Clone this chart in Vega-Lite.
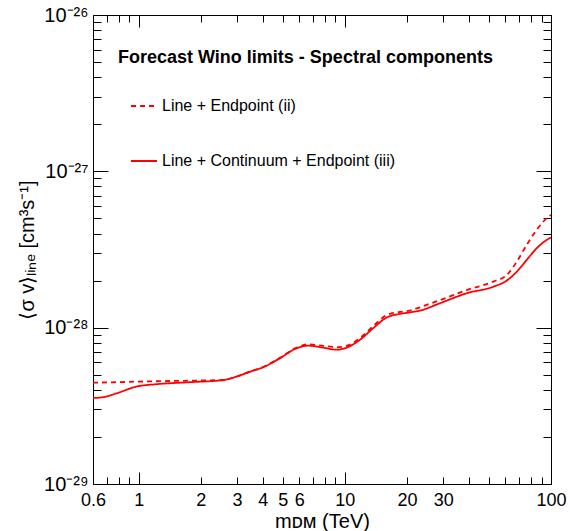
{
  "$schema": "https://vega.github.io/schema/vega-lite/v6.json",
  "autosize": "none",
  "padding": {"left": 93, "top": 15, "right": 19, "bottom": 47},
  "width": 458,
  "height": 469,
  "background": "white",
  "title": {
    "text": "Forecast Wino limits - Spectral components",
    "anchor": "start",
    "frame": "group",
    "orient": "top",
    "offset": 0,
    "baseline": "alphabetic",
    "dx": 25,
    "dy": 76,
    "font": "Liberation Sans",
    "fontSize": 18,
    "fontWeight": "bold",
    "color": "black"
  },
  "data": {
    "values": [
      {"m": 0.6, "sv": 4.45e-29, "series": "Line + Endpoint (ii)"},
      {"m": 0.8, "sv": 4.48e-29, "series": "Line + Endpoint (ii)"},
      {"m": 1.0, "sv": 4.52e-29, "series": "Line + Endpoint (ii)"},
      {"m": 1.3, "sv": 4.55e-29, "series": "Line + Endpoint (ii)"},
      {"m": 1.77, "sv": 4.58e-29, "series": "Line + Endpoint (ii)"},
      {"m": 2.57, "sv": 4.63e-29, "series": "Line + Endpoint (ii)"},
      {"m": 2.98, "sv": 4.87e-29, "series": "Line + Endpoint (ii)"},
      {"m": 3.46, "sv": 5.24e-29, "series": "Line + Endpoint (ii)"},
      {"m": 4.01, "sv": 5.6e-29, "series": "Line + Endpoint (ii)"},
      {"m": 4.84, "sv": 6.42e-29, "series": "Line + Endpoint (ii)"},
      {"m": 5.83, "sv": 7.45e-29, "series": "Line + Endpoint (ii)"},
      {"m": 6.64, "sv": 7.82e-29, "series": "Line + Endpoint (ii)"},
      {"m": 7.85, "sv": 7.65e-29, "series": "Line + Endpoint (ii)"},
      {"m": 9.11, "sv": 7.5e-29, "series": "Line + Endpoint (ii)"},
      {"m": 10.2, "sv": 7.65e-29, "series": "Line + Endpoint (ii)"},
      {"m": 11.8, "sv": 8.55e-29, "series": "Line + Endpoint (ii)"},
      {"m": 13.7, "sv": 1.02e-28, "series": "Line + Endpoint (ii)"},
      {"m": 15.9, "sv": 1.2e-28, "series": "Line + Endpoint (ii)"},
      {"m": 18.5, "sv": 1.26e-28, "series": "Line + Endpoint (ii)"},
      {"m": 20.7, "sv": 1.285e-28, "series": "Line + Endpoint (ii)"},
      {"m": 23.1, "sv": 1.35e-28, "series": "Line + Endpoint (ii)"},
      {"m": 28.9, "sv": 1.5e-28, "series": "Line + Endpoint (ii)"},
      {"m": 39.0, "sv": 1.74e-28, "series": "Line + Endpoint (ii)"},
      {"m": 52.5, "sv": 1.97e-28, "series": "Line + Endpoint (ii)"},
      {"m": 61.0, "sv": 2.17e-28, "series": "Line + Endpoint (ii)"},
      {"m": 68.2, "sv": 2.64e-28, "series": "Line + Endpoint (ii)"},
      {"m": 76.2, "sv": 3.38e-28, "series": "Line + Endpoint (ii)"},
      {"m": 85.2, "sv": 4.22e-28, "series": "Line + Endpoint (ii)"},
      {"m": 95.3, "sv": 5.01e-28, "series": "Line + Endpoint (ii)"},
      {"m": 100, "sv": 5.26e-28, "series": "Line + Endpoint (ii)"},
      {"m": 0.6, "sv": 3.55e-29, "series": "Line + Continuum + Endpoint (iii)"},
      {"m": 0.67, "sv": 3.59e-29, "series": "Line + Continuum + Endpoint (iii)"},
      {"m": 0.78, "sv": 3.8e-29, "series": "Line + Continuum + Endpoint (iii)"},
      {"m": 0.975, "sv": 4.2e-29, "series": "Line + Continuum + Endpoint (iii)"},
      {"m": 1.22, "sv": 4.35e-29, "series": "Line + Continuum + Endpoint (iii)"},
      {"m": 1.77, "sv": 4.48e-29, "series": "Line + Continuum + Endpoint (iii)"},
      {"m": 2.57, "sv": 4.62e-29, "series": "Line + Continuum + Endpoint (iii)"},
      {"m": 2.98, "sv": 4.86e-29, "series": "Line + Continuum + Endpoint (iii)"},
      {"m": 3.46, "sv": 5.22e-29, "series": "Line + Continuum + Endpoint (iii)"},
      {"m": 4.01, "sv": 5.58e-29, "series": "Line + Continuum + Endpoint (iii)"},
      {"m": 4.84, "sv": 6.37e-29, "series": "Line + Continuum + Endpoint (iii)"},
      {"m": 5.83, "sv": 7.38e-29, "series": "Line + Continuum + Endpoint (iii)"},
      {"m": 6.64, "sv": 7.67e-29, "series": "Line + Continuum + Endpoint (iii)"},
      {"m": 7.85, "sv": 7.45e-29, "series": "Line + Continuum + Endpoint (iii)"},
      {"m": 9.11, "sv": 7.23e-29, "series": "Line + Continuum + Endpoint (iii)"},
      {"m": 10.2, "sv": 7.45e-29, "series": "Line + Continuum + Endpoint (iii)"},
      {"m": 11.8, "sv": 8.34e-29, "series": "Line + Continuum + Endpoint (iii)"},
      {"m": 13.7, "sv": 9.91e-29, "series": "Line + Continuum + Endpoint (iii)"},
      {"m": 15.9, "sv": 1.159e-28, "series": "Line + Continuum + Endpoint (iii)"},
      {"m": 18.5, "sv": 1.225e-28, "series": "Line + Continuum + Endpoint (iii)"},
      {"m": 20.7, "sv": 1.253e-28, "series": "Line + Continuum + Endpoint (iii)"},
      {"m": 23.1, "sv": 1.285e-28, "series": "Line + Continuum + Endpoint (iii)"},
      {"m": 28.9, "sv": 1.432e-28, "series": "Line + Continuum + Endpoint (iii)"},
      {"m": 39.0, "sv": 1.66e-28, "series": "Line + Continuum + Endpoint (iii)"},
      {"m": 52.5, "sv": 1.828e-28, "series": "Line + Continuum + Endpoint (iii)"},
      {"m": 61.0, "sv": 2.0e-28, "series": "Line + Continuum + Endpoint (iii)"},
      {"m": 68.2, "sv": 2.28e-28, "series": "Line + Continuum + Endpoint (iii)"},
      {"m": 76.2, "sv": 2.71e-28, "series": "Line + Continuum + Endpoint (iii)"},
      {"m": 85.2, "sv": 3.22e-28, "series": "Line + Continuum + Endpoint (iii)"},
      {"m": 95.3, "sv": 3.64e-28, "series": "Line + Continuum + Endpoint (iii)"},
      {"m": 100, "sv": 3.77e-28, "series": "Line + Continuum + Endpoint (iii)"}
    ]
  },
  "layer": [
    {
      "mark": {"type": "line", "interpolate": "monotone", "color": "#ff0000", "strokeWidth": 1.8, "clip": true},
      "encoding": {
        "x": {
          "field": "m", "type": "quantitative",
          "scale": {"type": "log", "domain": [0.6, 100], "nice": false, "zero": false},
          "axis": {
            "orient": "bottom",
            "values": [0.6, 0.7, 0.8, 0.9, 1, 2, 3, 4, 5, 6, 7, 8, 9, 10, 20, 30, 40, 50, 60, 70, 80, 90, 100],
            "format": "~g",
            "labelExpr": "indexof([0.6, 1, 2, 3, 4, 5, 6, 10, 20, 30, 100], datum.value) >= 0 ? datum.label : ''",
            "tickSize": {"condition": {"test": "datum.value == 1 || datum.value == 10 || datum.value == 100", "value": -12}, "value": -7},
            "labelPadding": {"condition": {"test": "datum.value == 1 || datum.value == 10 || datum.value == 100", "value": 19}, "value": 14},
            "labelFlush": false,
            "labelOverlap": false,
            "labelFont": "Liberation Sans",
            "labelFontSize": 18,
            "labelColor": "black",
            "tickColor": "black",
            "domain": false,
            "grid": false,
            "title": "mᴅᴍ (TeV)",
            "titleFont": "Liberation Sans",
            "titleFontSize": 20,
            "titleFontWeight": "normal",
            "titleColor": "black",
            "titlePadding": 2
          }
        },
        "y": {
          "field": "sv", "type": "quantitative",
          "scale": {"type": "log", "domain": [1e-29, 1e-26], "nice": false, "zero": false},
          "axis": {
            "orient": "left",
            "values": [1e-29, 2e-29, 3e-29, 4e-29, 5e-29, 6e-29, 7e-29, 8e-29, 9e-29, 1e-28, 2e-28, 3e-28, 4e-28, 5e-28, 6e-28, 7e-28, 8e-28, 9e-28, 1e-27, 2e-27, 3e-27, 4e-27, 5e-27, 6e-27, 7e-27, 8e-27, 9e-27, 1e-26],
            "labelExpr": "abs(log(datum.value)/LN10 - round(log(datum.value)/LN10)) > 0.001 ? '' : (datum.value < 5e-29 ? '10⁻²⁹' : datum.value < 5e-28 ? '10⁻²⁸' : datum.value < 5e-27 ? '10⁻²⁷' : '10⁻²⁶')",
            "tickSize": {"condition": {"test": "abs(log(datum.value)/LN10 - round(log(datum.value)/LN10)) < 0.001", "value": -15}, "value": -8},
            "labelPadding": {"condition": {"test": "abs(log(datum.value)/LN10 - round(log(datum.value)/LN10)) < 0.001", "value": 20}, "value": 13},
            "labelFlush": false,
            "labelOverlap": false,
            "labelFont": "Liberation Sans",
            "labelFontSize": 20,
            "labelColor": "black",
            "tickColor": "black",
            "domain": false,
            "grid": false,
            "title": "⟨σ v⟩ₗᵢₙₑ [cm³s⁻¹]",
            "titleFont": "Liberation Sans",
            "titleFontSize": 20,
            "titleFontWeight": "normal",
            "titleColor": "black",
            "titlePadding": 6
          }
        },
        "strokeDash": {
          "field": "series", "type": "nominal",
          "scale": {"domain": ["Line + Endpoint (ii)", "Line + Continuum + Endpoint (iii)"], "range": [[5, 4], [1, 0]]},
          "legend": {
            "orient": "none",
            "legendX": 37,
            "legendY": 77,
            "title": null,
            "symbolType": "stroke",
            "symbolSize": 676,
            "symbolStrokeColor": "#ff0000",
            "symbolStrokeWidth": 1.8,
            "labelFont": "Liberation Sans",
            "labelFontSize": 16,
            "labelColor": "black",
            "labelLimit": 400,
            "labelOffset": 4,
            "rowPadding": 33,
            "padding": 0
          }
        }
      }
    },
    {
      "mark": {"type": "line", "interpolate": "monotone", "color": "#ff0000", "strokeOpacity": 0, "clip": true},
      "encoding": {
        "detail": {"field": "series", "type": "nominal"},
        "x": {
          "field": "m", "type": "quantitative",
          "axis": {
            "orient": "top",
            "values": [0.6, 0.7, 0.8, 0.9, 1, 2, 3, 4, 5, 6, 7, 8, 9, 10, 20, 30, 40, 50, 60, 70, 80, 90, 100],
            "tickSize": {"condition": {"test": "datum.value == 1 || datum.value == 10 || datum.value == 100", "value": -12}, "value": -7},
            "labels": false,
            "tickColor": "black",
            "domain": false,
            "grid": false,
            "title": null
          }
        },
        "y": {
          "field": "sv", "type": "quantitative",
          "axis": {
            "orient": "right",
            "values": [1e-29, 2e-29, 3e-29, 4e-29, 5e-29, 6e-29, 7e-29, 8e-29, 9e-29, 1e-28, 2e-28, 3e-28, 4e-28, 5e-28, 6e-28, 7e-28, 8e-28, 9e-28, 1e-27, 2e-27, 3e-27, 4e-27, 5e-27, 6e-27, 7e-27, 8e-27, 9e-27, 1e-26],
            "tickSize": {"condition": {"test": "abs(log(datum.value)/LN10 - round(log(datum.value)/LN10)) < 0.001", "value": -15}, "value": -8},
            "labels": false,
            "tickColor": "black",
            "domain": false,
            "grid": false,
            "title": null
          }
        }
      }
    }
  ],
  "resolve": {"axis": {"x": "independent", "y": "independent"}},
  "config": {
    "view": {"stroke": "black", "strokeWidth": 1},
    "axis": {"tickWidth": 1}
  }
}
